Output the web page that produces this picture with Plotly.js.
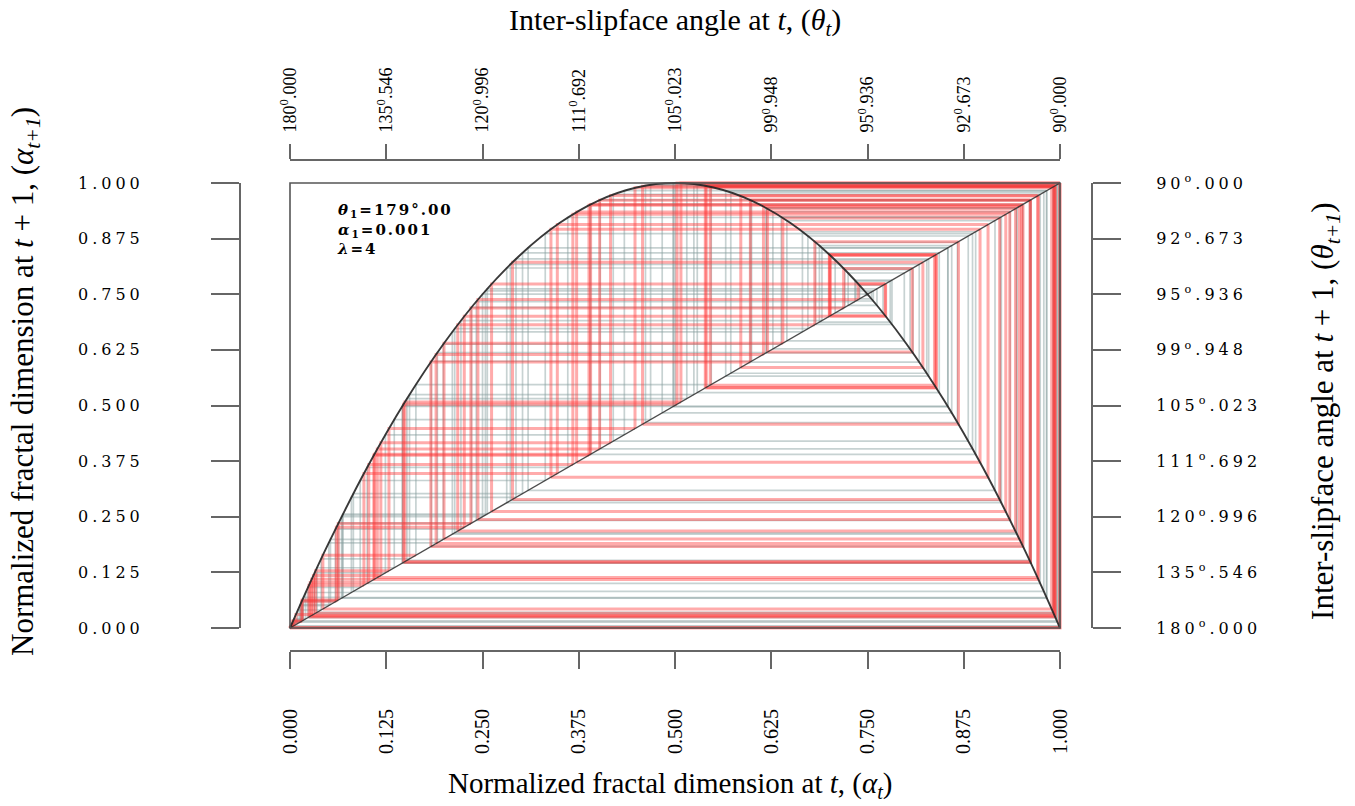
<!DOCTYPE html>
<html>
<head>
<meta charset="utf-8">
<script src="https://cdn.plot.ly/plotly-3.0.1.min.js"></script>
<style>
  html, body { margin: 0; padding: 0; background: #fff; }
  #chart { width: 1355px; height: 806px; }
  .ytick text, .y2tick text { letter-spacing: 4px; }
  .annotation[data-index="4"] text { letter-spacing: 2px; }
</style>
</head>
<body>
<div id="chart"></div>
<script>
// ---- tick labels ----
const alphaTicks = [0, 0.125, 0.25, 0.375, 0.5, 0.625, 0.75, 0.875, 1];
const alphaTickText = ['0.000', '0.125', '0.250', '0.375', '0.500', '0.625', '0.750', '0.875', '1.000'];
const thetaTickTextTop = ['180<sup>0</sup>.000', '135<sup>0</sup>.546', '120<sup>0</sup>.996', '111<sup>0</sup>.692',
  '105<sup>0</sup>.023', '99<sup>0</sup>.948', '95<sup>0</sup>.936', '92<sup>0</sup>.673', '90<sup>0</sup>.000'];
const thetaTickTextRight = ['180<sup>o</sup>.000', '135<sup>o</sup>.546', '120<sup>o</sup>.996', '111<sup>o</sup>.692',
  '105<sup>o</sup>.023', '99<sup>o</sup>.948', '95<sup>o</sup>.936', '92<sup>o</sup>.673', '90<sup>o</sup>.000'];

// ---- return map curve (alpha_t -> alpha_t+1) ----
const curveAlphaT = [0, 0.025, 0.05, 0.1, 0.15, 0.2, 0.25, 0.3, 0.35, 0.4, 0.45, 0.5,
  0.55, 0.6, 0.65, 0.7, 0.75, 0.8, 0.85, 0.9, 0.95, 0.975, 1];
const curveAlphaT1 = [0, 0.0975, 0.19, 0.36, 0.51, 0.64, 0.75, 0.84, 0.91, 0.96, 0.99, 1,
  0.99, 0.96, 0.91, 0.84, 0.75, 0.64, 0.51, 0.36, 0.19, 0.0975, 0];

// ---- identity line alpha_t+1 = alpha_t ----
const identityAlpha = [0, 1];

// ---- orbit (successive alpha values of the cobweb) ----
const orbitAlpha = [
  0.001, 0.003996, 0.01592, 0.06267, 0.23496, 0.71901, 0.80814, 0.62021, 0.94220, 0.21785,
  0.68155, 0.86815, 0.45786, 0.99290, 0.02820, 0.10962, 0.39041, 0.95196, 0.18293, 0.59787,
  0.96169, 0.14737, 0.50261, 0.99997, 0.00012, 0.00048, 0.00192, 0.007665, 0.030425, 0.11800,
  0.41630, 0.97198, 0.10894, 0.38829, 0.95008, 0.18971, 0.61488, 0.94721, 0.20001, 0.64002,
  0.92160, 0.28901, 0.82193, 0.58544, 0.97080, 0.11339, 0.40213, 0.96120, 0.14918, 0.50770,
  0.99976, 0.00096, 0.003836, 0.015285, 0.060205, 0.22632, 0.70040, 0.83936, 0.53934, 0.99381,
  0.024607, 0.096006, 0.34716, 0.90655, 0.33887, 0.89615, 0.37226, 0.93473, 0.24404, 0.73794,
  0.77354, 0.70070, 0.83888, 0.54064, 0.99339, 0.026265, 0.10230, 0.36734, 0.92960, 0.26178,
  0.77300, 0.70188, 0.83698, 0.54578, 0.99162, 0.033239, 0.12854, 0.44807, 0.98921, 0.042694,
  0.16349, 0.54705, 0.99115, 0.035087, 0.13542, 0.46833, 0.99599, 0.015976, 0.062883, 0.23572,
  0.72062, 0.80531, 0.62714, 0.93534, 0.24192, 0.73358, 0.78176, 0.68245, 0.86685, 0.46168,
  0.99413, 0.023342, 0.091189, 0.33149, 0.88642, 0.40272, 0.96215, 0.14567, 0.49780, 0.99998,
  0.00008, 0.00032, 0.00128, 0.005113, 0.020348, 0.079736, 0.29351, 0.82945, 0.56585, 0.98266,
  0.06700, 0.25004, 0.75008, 0.74984, 0.75032, 0.74936, 0.75128, 0.74744, 0.75510, 0.73970,
  0.77018, 0.70801, 0.82693, 0.57247, 0.97899, 0.08227, 0.30200, 0.84318, 0.52891, 0.99666,
  0.013315, 0.052551, 0.19916, 0.63799, 0.92383, 0.28147, 0.80898, 0.61812, 0.94418, 0.21082,
  0.66550, 0.89044, 0.39023, 0.95179, 0.18354, 0.59942, 0.96046, 0.15191, 0.51533, 0.99906,
  0.003756, 0.014968, 0.058976, 0.22199, 0.69084, 0.85432, 0.49783, 0.99995, 0.00020, 0.00080,
  0.00320, 0.012759, 0.050385, 0.19139, 0.61904, 0.94331, 0.21390, 0.67259, 0.88085, 0.41981,
  0.97428, 0.10023, 0.36074, 0.92243, 0.28621, 0.81718, 0.59758, 0.96193, 0.14648, 0.50010,
  0.99999, 0.00004, 0.00016, 0.00064, 0.00256, 0.010214, 0.040439, 0.15522, 0.52451, 0.99198,
  0.03200, 0.12390, 0.43420, 0.98268, 0.06808, 0.25378, 0.75750, 0.73478, 0.77951, 0.68750,
  0.85938, 0.48338, 0.99890, 0.004395, 0.017503, 0.068787, 0.25622, 0.76228, 0.72484, 0.79779,
  0.64529, 0.91557, 0.30921, 0.85440, 0.49760
];

// ---- build traces ----
const redCount = 90;
const grayTraces = [], redTraces = [];
for (let i = 0; i < orbitAlpha.length - 1; i++) {
  const a = orbitAlpha[i], b = orbitAlpha[i + 1];
  const isRed = i < redCount;
  const tr = {
    type: 'scatter', mode: 'lines',
    x: [a, a, b], y: [a, b, b],
    line: { color: isRed ? 'rgba(255,55,55,0.42)' : 'rgba(130,155,155,0.45)', width: isRed ? 3 : 1.7 },
    hoverinfo: 'skip', xaxis: 'x', yaxis: 'y'
  };
  (isRed ? redTraces : grayTraces).push(tr);
}

const curveTrace = {
  type: 'scatter', mode: 'lines', x: curveAlphaT, y: curveAlphaT1,
  line: { color: 'rgba(35,35,35,0.9)', width: 1.9, shape: 'spline' }, hoverinfo: 'skip'
};
const diagTrace = {
  type: 'scatter', mode: 'lines', x: identityAlpha, y: identityAlpha,
  line: { color: 'rgba(45,45,45,0.85)', width: 1.4 }, hoverinfo: 'skip'
};
const ghost = {
  type: 'scatter', mode: 'markers', x: identityAlpha, y: identityAlpha,
  marker: { opacity: 0 }, xaxis: 'x2', yaxis: 'y2', hoverinfo: 'skip'
};

const xRange = [-50 / 770, 1 + 32 / 770];
const yRange = [-23 / 445, 1 + 23 / 445];
const axColor = '#666';
const serif = 'Liberation Serif, Times New Roman, serif';
const wideSerif = 'DejaVu Serif, serif';

const layout = {
  width: 1355, height: 806,
  margin: { l: 240, r: 263, t: 160, b: 155, pad: 0 },
  paper_bgcolor: '#fff', plot_bgcolor: '#fff',
  showlegend: false,
  xaxis: {
    range: xRange, showgrid: false, zeroline: false, showline: false,
    tickvals: alphaTicks, ticktext: alphaTickText, tickangle: -90,
    ticks: 'outside', ticklen: 17, tickwidth: 2, tickcolor: axColor,
    ticklabelstandoff: 32,
    tickfont: { family: serif, size: 20, color: '#000' }
  },
  xaxis2: {
    range: xRange, overlaying: 'x', side: 'top', anchor: 'y',
    showgrid: false, zeroline: false, showline: false,
    tickvals: alphaTicks, ticktext: thetaTickTextTop, tickangle: -90,
    ticks: 'outside', ticklen: 15, tickwidth: 2, tickcolor: axColor,
    ticklabelstandoff: 8,
    tickfont: { family: serif, size: 18, color: '#000' }
  },
  yaxis: {
    range: yRange, showgrid: false, zeroline: false, showline: false,
    tickvals: alphaTicks, ticktext: alphaTickText,
    ticks: 'outside', ticklen: 28, tickwidth: 2, tickcolor: axColor,
    ticklabelstandoff: 64,
    tickfont: { family: wideSerif, size: 16, color: '#000' }
  },
  yaxis2: {
    range: yRange, overlaying: 'y', side: 'right', anchor: 'x',
    showgrid: false, zeroline: false, showline: false,
    tickvals: alphaTicks, ticktext: thetaTickTextRight,
    ticks: 'outside', ticklen: 28, tickwidth: 2, tickcolor: axColor,
    ticklabelstandoff: 32,
    tickfont: { family: wideSerif, size: 16, color: '#000' }
  },
  shapes: [
    { type: 'rect', xref: 'x', yref: 'y', x0: 0, x1: 1, y0: 0, y1: 1, line: { color: '#555', width: 1.6 }, layer: 'above' },
    { type: 'line', xref: 'paper', yref: 'y', x0: 0, x1: 0, y0: 0, y1: 1, line: { color: axColor, width: 2 } },
    { type: 'line', xref: 'paper', yref: 'y', x0: 1, x1: 1, y0: 0, y1: 1, line: { color: axColor, width: 2 } },
    { type: 'line', xref: 'x', yref: 'paper', x0: 0, x1: 1, y0: 0, y1: 0, line: { color: axColor, width: 2 } },
    { type: 'line', xref: 'x', yref: 'paper', x0: 0, x1: 1, y0: 1, y1: 1, line: { color: axColor, width: 2 } }
  ],
  annotations: [
    { xref: 'paper', yref: 'paper', x: 0.5047, y: -0.273, xanchor: 'center', yanchor: 'middle', showarrow: false,
      text: 'Normalized fractal dimension at <i>t</i>, (<i>α<sub>t</sub></i>)', font: { family: serif, size: 29, color: '#000' } },
    { xref: 'paper', yref: 'paper', x: 0.5106, y: 1.281, xanchor: 'center', yanchor: 'middle', showarrow: false,
      text: 'Inter-slipface angle at <i>t</i>, (<i>θ<sub>t</sub></i>)', font: { family: serif, size: 30, color: '#000' } },
    { xref: 'paper', yref: 'paper', x: -0.2523, y: 0.548, xanchor: 'center', yanchor: 'middle', showarrow: false, textangle: -90,
      text: 'Normalized fractal dimension at <i>t</i> + 1, (<i>α<sub>t+1</sub></i>)', font: { family: serif, size: 31, color: '#000' } },
    { xref: 'paper', yref: 'paper', x: 1.2735, y: 0.487, xanchor: 'center', yanchor: 'middle', showarrow: false, textangle: -90,
      text: 'Inter-slipface angle at <i>t</i> + 1, (<i>θ<sub>t+1</sub></i>)', font: { family: serif, size: 31, color: '#000' } },
    { xref: 'x', yref: 'y', x: 0.058, y: 0.965, xanchor: 'left', yanchor: 'top', align: 'left', showarrow: false,
      text: '<i>θ</i><sub>1</sub>=179°.00<br><i>α</i><sub>1</sub>=0.001<br><i>λ</i>=4',
      font: { family: wideSerif, size: 15, color: '#000', weight: 'bold' } }
  ]
};

Plotly.newPlot('chart', [...grayTraces, ...redTraces, diagTrace, curveTrace, ghost], layout, { staticPlot: true, displayModeBar: false });
</script>
</body>
</html>
